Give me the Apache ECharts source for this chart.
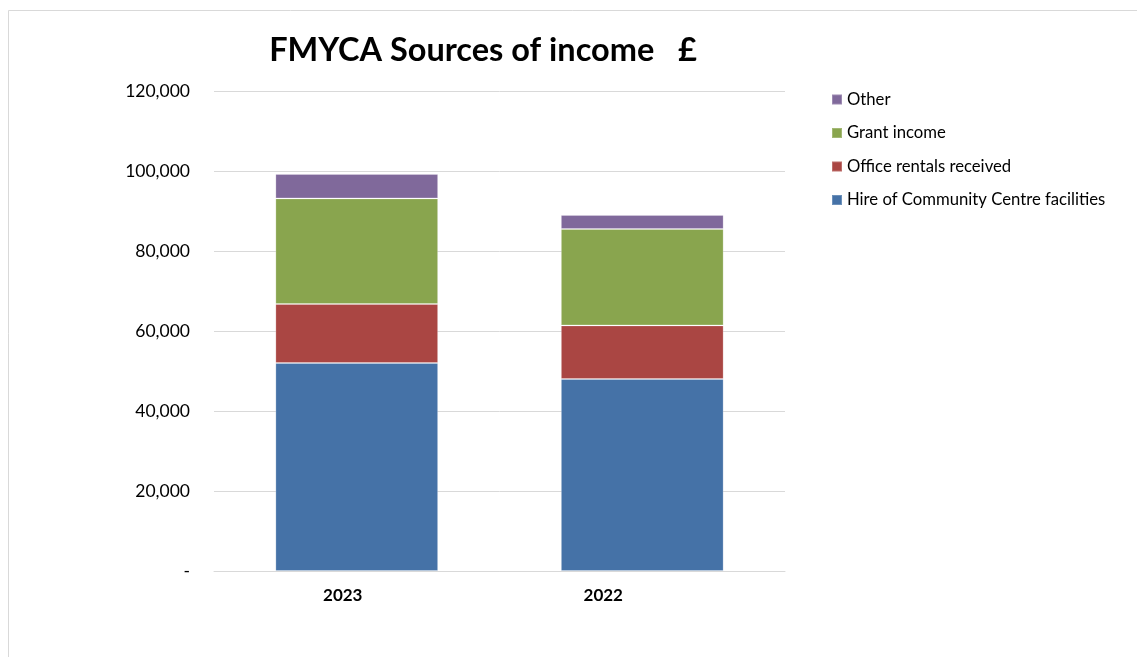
<!DOCTYPE html>
<html>
<head>
<meta charset="utf-8">
<script src="https://cdn.jsdelivr.net/npm/echarts@6/dist/echarts.min.js"></script>
<style>
html,body{margin:0;padding:0;background:#fff;}
#chart{width:1137px;height:657px;}
</style>
</head>
<body>
<div id="chart"></div>
<script>
var categories = ['2023', '2022'];
var hireValues = [52000, 48000];
var officeValues = [14750, 13400];
var grantValues = [26400, 24100];
var otherValues = [6100, 3500];
var seriesNames = ['Hire of Community Centre facilities', 'Office rentals received', 'Grant income', 'Other'];
var yTicks = [0, 20000, 40000, 60000, 80000, 100000, 120000];

var FONT = 'Lato, "Open Sans", sans-serif';
var chart = echarts.init(document.getElementById('chart'));
var colors = ['#4572A7', '#AA4643', '#89A54E', '#80699B'];
var dataSets = [hireValues, officeValues, grantValues, otherValues];

var series = seriesNames.map(function (name, i) {
  return {
    name: name,
    type: 'bar',
    stack: 'total',
    barWidth: '57%',
    data: dataSets[i],
    itemStyle: { color: colors[i], borderColor: 'rgba(255,255,255,0.22)', borderWidth: 1 }
  };
});

chart.setOption({
  animation: false,
  backgroundColor: '#fff',
  title: {
    text: 'FMYCA Sources of income   £',
    left: 478,
    textAlign: 'center',
    top: 29,
    textStyle: { fontFamily: FONT, fontSize: 32.5, fontWeight: 'bold', color: '#000' }
  },
  legend: {
    data: seriesNames.slice().reverse(),
    orient: 'vertical',
    left: 826,
    top: 86,
    itemWidth: 10,
    itemHeight: 10,
    itemGap: 16.5,
    icon: 'rect',
    textStyle: { fontFamily: FONT, fontSize: 16.7, color: '#000' }
  },
  grid: { left: 214, right: 352, top: 91, bottom: 86, containLabel: false },
  xAxis: {
    type: 'category',
    data: categories,
    axisLine: { lineStyle: { color: '#d9d9d9' } },
    axisTick: { show: false },
    axisLabel: {
      fontFamily: FONT, fontSize: 17, fontWeight: 'bold', color: '#000', margin: 16,
      formatter: function (v, idx) { return idx === 0 ? '{a|' + v + '}' : '{b|' + v + '}'; },
      rich: {
        a: { fontFamily: FONT, fontSize: 17, fontWeight: 'bold', color: '#000', padding: [0, 28, 0, 0] },
        b: { fontFamily: FONT, fontSize: 17, fontWeight: 'bold', color: '#000', padding: [0, 78, 0, 0] }
      }
    }
  },
  yAxis: {
    type: 'value',
    min: 0,
    max: 120000,
    interval: 20000,
    axisLine: { show: false },
    axisTick: { show: false },
    splitLine: { lineStyle: { color: '#d9d9d9' } },
    axisLabel: {
      fontFamily: FONT, fontSize: 17.5, color: '#000', margin: 24,
      formatter: function (v) { return v === 0 ? '-' : v.toLocaleString('en-US'); }
    }
  },
  graphic: [
    { type: 'line', shape: { x1: 8.5, y1: 10.5, x2: 1137, y2: 10.5 }, style: { stroke: '#d9d9d9', lineWidth: 1 } },
    { type: 'line', shape: { x1: 8.5, y1: 10.5, x2: 8.5, y2: 657 }, style: { stroke: '#d9d9d9', lineWidth: 1 } }
  ],
  series: series
});
</script>
</body>
</html>
